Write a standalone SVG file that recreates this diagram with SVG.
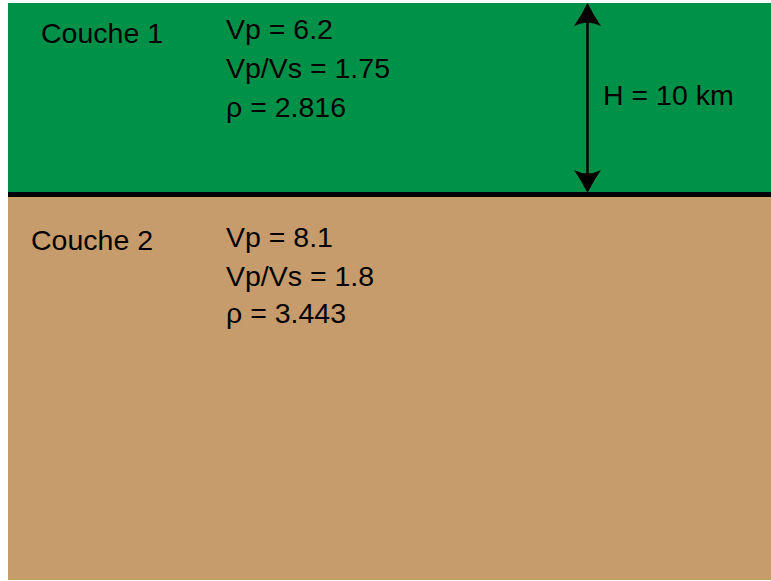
<svg xmlns="http://www.w3.org/2000/svg" width="771" height="581" viewBox="0 0 771 581">
<style>
text{font-family:"Liberation Sans",Arial,sans-serif;font-size:28.5px;fill:#000}
</style>
<defs>
<marker id="ah" viewBox="0 0 23 27" refX="21" refY="13.5" markerWidth="23" markerHeight="27" markerUnits="userSpaceOnUse" orient="auto-start-reverse">
<path d="M23,13.5 Q10,7 0,0 Q7,13.5 0,27 Q10,20 23,13.5 Z" fill="#000"/>
</marker>
</defs>
<rect width="771" height="581" fill="#fff"/>
<g id="couche1">
<rect x="8" y="3" width="763" height="190" fill="#009149"/>
<text x="41" y="43">Couche 1</text>
<text x="226" y="39">Vp = 6.2</text>
<text x="226" y="78">Vp/Vs = 1.75</text>
<text x="226" y="117">ρ = 2.816</text>
</g>
<g id="couche2">
<rect x="8" y="195" width="763" height="385" fill="#C69C6D"/>
<text x="31" y="250">Couche 2</text>
<text x="226" y="247">Vp = 8.1</text>
<text x="226" y="286">Vp/Vs = 1.8</text>
<text x="226" y="323">ρ = 3.443</text>
</g>
<g id="interface">
<rect x="8" y="192" width="763" height="5" fill="#000"/>
</g>
<g id="connectors">
<path d="M587.5,5 V191" stroke="#000" stroke-width="2.5" fill="none" marker-start="url(#ah)" marker-end="url(#ah)"/>
</g>
<g id="label-H">
<text x="603" y="105">H = 10 km</text>
</g>
</svg>
